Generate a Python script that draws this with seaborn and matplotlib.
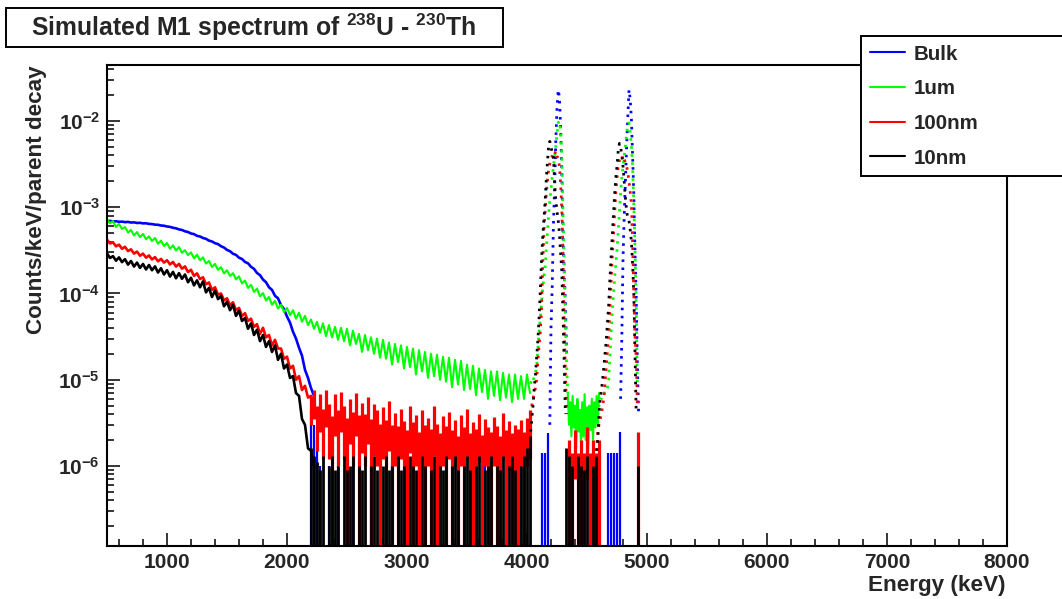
import numpy as np
import pandas as pd
import matplotlib
matplotlib.use("Agg")
import matplotlib.pyplot as plt
import seaborn as sns
from matplotlib.ticker import MultipleLocator, LogLocator, FuncFormatter, NullFormatter
from matplotlib.lines import Line2D
from matplotlib.patches import Rectangle

# ---------------- data (values in units of 1e-6 counts/keV/parent decay) ----------------
UNIT = 1e-6
SERIES = ["Bulk", "1um", "100nm", "10nm"]
COLORS = ["#0000ff", "#00ff00", "#ff0000", "#000000"]

# low-energy continuum, 500..2225 keV every 25 keV
E_LOW = list(range(500, 2226, 25))
bulk_low = [690, 695, 684, 688, 678, 681, 672, 676, 665, 668,
            657, 660, 650, 652, 641, 638, 628, 626, 614, 610,
            598, 592, 578, 570, 553, 545, 526, 516, 496, 488,
            466, 458, 440, 430, 410, 401, 383, 374, 353, 341,
            320, 309, 289, 280, 260, 251, 232, 224, 204, 193,
            173, 163, 145, 135, 118, 110, 94, 88, 73, 66,
            54, 46, 36, 30, 23.5, 19, 13, 10.5, 8.0, 6.5]
nm100_low = [420, 380, 392, 352, 368, 330, 348, 310, 325, 290,
             306, 274, 290, 260, 276, 248, 264, 236, 252, 228,
             243, 217, 232, 205, 220, 194, 206, 177, 188, 160,
             171, 147, 154, 128, 134, 110, 118, 97, 100, 83,
             88, 73, 79, 64, 68, 55, 59, 48, 51, 41,
             44, 34, 40, 31, 33, 25, 29, 23, 23, 17.5,
             18.5, 13.5, 14.5, 10, 11, 7.6, 8.5, 6.2, 6.5, 4.6]
nm10_low = [292, 258, 271, 240, 262, 231, 250, 216, 238, 205,
            228, 198, 220, 190, 214, 186, 206, 175, 196, 166,
            186, 157, 178, 150, 172, 148, 166, 135, 152, 124,
            142, 118, 138, 103, 116, 91, 108, 86, 94, 71,
            80, 64, 74, 55, 63, 48, 52, 39, 45, 33,
            38, 28, 33, 24, 28, 21, 25, 17, 20, 13.5,
            15, 10.5, 11, 7.0, 6.5, 3.5, 3.0, 1.6, 1.5, 1.0]

# 1um continuum, 500..4025 keV every 25 keV
E_GREEN = list(range(500, 4026, 25))
um1_low = [720, 650, 690, 590, 640, 560, 590, 510, 545, 470,
           515, 450, 490, 425, 460, 405, 440, 378, 410, 355,
           385, 330, 362, 315, 345, 296, 318, 279, 300, 255,
           282, 243, 262, 222, 238, 203, 220, 188, 202, 171,
           186, 160, 172, 146, 158, 131, 141, 116, 126, 104,
           114, 93, 101, 83, 91, 74, 82, 67, 74, 61,
           68, 56, 64, 51, 60, 47, 55, 43, 50, 39,
           47, 35, 45, 32, 43, 31, 41, 29, 40, 28,
           39, 25, 37, 26, 34, 21, 33, 22, 31, 20,
           30, 18, 29, 17.5, 27, 15, 26, 16, 25, 13.5,
           24, 14, 23, 11.5, 22, 12.5, 21, 10.5, 20, 11,
           19.5, 10, 18.5, 9.5, 18, 8.2, 17, 8.8, 16.5, 7.6,
           15, 7.8, 14.5, 6.6, 13.5, 7.2, 13, 6.0, 12.5, 6.5,
           12.5, 5.8, 12, 6.2, 11.5, 5.5, 11.5, 6.0, 11, 6.0,
           11.5, 7.0]

# 1um band between the two peaks, 4340..4600 keV every 10 keV
E_GAP = list(range(4340, 4601, 10))
um1_gap = [7, 3.0, 5.5, 2.2, 6.5, 2.8, 5.0, 1.6, 6.0, 2.5,
           4.5, 1.8, 5.5, 2.2, 6.8, 2.0, 4.8, 1.5, 5.0, 2.6,
           6.0, 2.0, 5.5, 2.8, 6.5, 3.0, 7.0]

# first alpha peak, 4030..4340 keV every 10 keV
E_PK1 = list(range(4030, 4341, 10))
bulk_pk1 = [0, 0, 0, 0, 0, 0, 0, 0, 0, 0,
            0, 0, 0, 0, 0, 0, 3, 40, 120, 600,
            1700, 6000, 14000, 23000, 19000, 8500, 2600, 450, 170, 80,
            20, 0]
um1_pk1 = [9, 10, 9.5, 11, 12, 14, 22, 35, 50, 75,
           110, 150, 190, 320, 500, 800, 1200, 1600, 2200, 2900,
           3800, 5000, 7000, 9500, 10000, 7500, 4000, 900, 250, 50,
           15, 7]
nm100_pk1 = [4, 5, 6, 7, 8, 10, 16, 24, 35, 60,
             200, 500, 860, 1400, 2000, 2700, 3200, 3600, 3900, 4300,
             4100, 4500, 3900, 3700, 3000, 1900, 950, 300, 40, 12,
             4, 0]
nm10_pk1 = [2.5, 3.5, 5, 8, 11, 18, 28, 50, 100, 230,
            430, 700, 1100, 2000, 3300, 5000, 5800, 5000, 4300, 3800,
            2000, 1200, 900, 700, 500, 300, 180, 60, 15, 4,
            0, 0]

# second alpha peak, 4580..4940 keV every 10 keV
E_PK2 = list(range(4580, 4941, 10))
bulk_pk2 = [0, 0, 0, 0, 0, 0, 0, 0, 0, 0,
            0, 0, 0, 0, 0, 0, 0, 0, 0, 0,
            6, 30, 250, 800, 2000, 5000, 11000, 23000, 18000, 10500,
            4000, 1400, 300, 90, 15, 4, 0]
um1_pk2 = [4, 5, 5, 6, 6, 7, 7, 7, 7, 8,
           10, 18, 32, 60, 95, 150, 220, 320, 520, 850,
           1500, 2200, 3000, 3900, 5000, 7000, 9000, 9500, 7500, 5200,
           2900, 1100, 350, 70, 8, 0, 0]
nm100_pk2 = [1.5, 2.5, 3, 3.5, 4, 5, 6, 9, 14, 22,
             32, 65, 130, 260, 450, 850, 1500, 2200, 3000, 3500,
             3700, 3500, 4000, 3600, 3300, 3000, 2500, 2000, 1500, 1100,
             400, 100, 32, 18, 5, 0, 0]
nm10_pk2 = [1.5, 2, 4, 6, 7.5, 10, 14, 20, 28, 45,
            70, 140, 250, 450, 800, 1400, 2200, 3000, 4500, 5500,
            5000, 4000, 3000, 2000, 1300, 900, 750, 700, 550, 400,
            220, 100, 20, 4, 0, 0, 0]

# low-count bins (error bars reaching the axis floor), 2200..4950 keV every 25 keV
E_FOREST = list(range(2200, 4951, 25))
bulk_forest = [4.5, 3.0, 2.0, 1.0, 0, 0, 1.0, 0, 0, 1.0,
               0, 0, 0, 0, 1.0, 0, 0, 0, 0, 0,
               1.0, 0, 0, 0, 0, 0, 0, 1.0, 0, 0,
               0, 0, 1.0, 0, 0, 0, 1.0, 0, 0, 0,
               0, 0, 0, 0, 0, 1.0, 0, 0, 0, 1.0,
               0, 0, 0, 0, 0, 0, 0, 0, 1.0, 0,
               0, 0, 0, 1.0, 0, 0, 0, 0, 0, 0,
               1.0, 0, 0, 0, 0, 0, 0, 1.4, 1.4, 2.4,
               0, 0, 0, 0, 0, 0, 0, 0, 0, 0,
               0, 0, 0, 0, 0, 0, 0, 0, 0, 1.4,
               1.4, 1.4, 1.4, 2.5, 0, 0, 0, 0, 0, 0,
               0]
nm100_forest_hi = [6.5, 7.5, 5.0, 6.8, 4.6, 7.6, 5.2, 3.8, 6.9, 4.4,
                   7.2, 5.0, 3.6, 6.0, 4.2, 7.0, 3.9, 5.4, 4.0, 6.3,
                   3.5, 5.2, 4.5, 3.1, 4.8, 3.4, 5.6, 3.0, 4.1, 2.9,
                   4.6, 3.3, 2.6, 5.0, 3.2, 3.9, 2.5, 4.4, 3.0, 3.6,
                   2.7, 4.9, 3.1, 2.4, 3.8, 2.9, 4.2, 2.6, 3.4, 2.2,
                   3.9, 2.8, 4.6, 2.4, 3.2, 2.7, 4.0, 2.3, 3.5, 2.8,
                   2.5, 3.7, 2.9, 2.2, 4.1, 2.6, 3.3, 2.4, 3.0, 2.7,
                   3.4, 2.5, 3.6, 4.5, 0, 0, 0, 0, 0, 0,
                   0, 0, 0, 0, 0, 0, 2.0, 1.4, 2.6, 1.4,
                   2.0, 1.4, 2.8, 1.4, 2.0, 1.4, 2.0, 0, 0, 0,
                   0, 0, 0, 0, 0, 0, 0, 0, 0, 2.5,
                   0]
nm100_forest_lo = [3.0, 3.5, 1.5, 2.5, 1.2, 2.8, 1.2, 0, 2.2, 1.0,
                   2.5, 1.2, 0, 1.8, 1.0, 2.2, 0, 1.4, 1.0, 1.8,
                   0, 1.3, 1.0, 0, 1.2, 0, 1.5, 0, 1.0, 0,
                   1.2, 0, 0, 1.4, 0, 1.0, 0, 1.2, 0, 1.0,
                   0, 1.3, 0, 0, 1.0, 0, 1.2, 0, 1.0, 0,
                   1.0, 0, 1.2, 0, 0, 0, 1.1, 0, 1.0, 0,
                   0, 1.0, 0, 0, 1.2, 0, 0.9, 0, 0, 0,
                   1.0, 0, 1.0, 1.2, 0, 0, 0, 0, 0, 0,
                   0, 0, 0, 0, 0, 0, 0, 0, 0.7, 0,
                   0, 0, 0.7, 0, 0, 0, 0, 0, 0, 0,
                   0, 0, 0, 0, 0, 0, 0, 0, 0, 0,
                   0]
nm10_forest = [1.6, 1.3, 1.1, 0.9, 1.3, 0, 1.0, 1.3, 0.9, 1.0,
               0, 1.3, 0.9, 1.0, 1.3, 0, 1.0, 0.9, 1.3, 0,
               1.0, 1.3, 0.9, 0, 1.0, 1.3, 0.9, 1.0, 0, 1.3,
               0.9, 1.0, 0, 1.3, 1.0, 0.9, 0, 1.3, 1.0, 0,
               0.9, 1.3, 0, 1.0, 0.9, 1.3, 0, 1.0, 1.3, 0.9,
               0, 1.0, 1.3, 0.9, 0, 1.0, 1.3, 0, 0.9, 1.0,
               1.3, 0, 1.0, 0.9, 1.3, 0, 1.0, 1.3, 0.9, 0,
               1.0, 1.3, 1.6, 2.2, 0, 0, 0, 0, 0, 0,
               0, 0, 0, 0, 0, 1.6, 1.3, 1.0, 0, 1.3,
               1.0, 0.9, 1.3, 0, 1.0, 1.3, 0, 0, 0, 0,
               0, 0, 0, 0, 0, 0, 0, 0, 0, 1.0,
               0]

TITLE = r"Simulated M1 spectrum of $^{238}$U - $^{230}$Th"
XLABEL = "Energy (keV)"
YLABEL = "Counts/keV/parent decay"
XLIM = (500, 8000)
YLIM = (1.18e-7, 0.0446)

# ---------------- style ----------------
sns.set_theme(style="white")
plt.rcParams["font.family"] = ["Liberation Sans", "DejaVu Sans"]
plt.rcParams["font.weight"] = "bold"
plt.rcParams["mathtext.fontset"] = "custom"
plt.rcParams["mathtext.rm"] = "Liberation Sans:bold"
plt.rcParams["mathtext.bf"] = "Liberation Sans:bold"
plt.rcParams["mathtext.it"] = "Liberation Sans:bold"
plt.rcParams["mathtext.default"] = "rm"
plt.rcParams["axes.unicode_minus"] = False

W, H = 1062, 599
fig = plt.figure(figsize=(W / 100, H / 100), dpi=100)
fig.patch.set_facecolor("white")
ax = fig.add_axes([107 / W, 1 - 546 / H, 900 / W, 481 / H])
ax.set_facecolor("white")
ax.set_yscale("log")
ax.set_xlim(*XLIM)
ax.set_ylim(*YLIM)


def frame(e, v):
    d = pd.DataFrame({"E": e, "v": np.array(v, dtype=float) * UNIT})
    return d[d["v"] > 0]


lows = {"Bulk": (E_LOW, bulk_low), "1um": (E_GREEN, um1_low),
        "100nm": (E_LOW, nm100_low), "10nm": (E_LOW, nm10_low)}
pk1 = {"Bulk": bulk_pk1, "1um": um1_pk1, "100nm": nm100_pk1, "10nm": nm10_pk1}
pk2 = {"Bulk": bulk_pk2, "1um": um1_pk2, "100nm": nm100_pk2, "10nm": nm10_pk2}
lw_low = {"Bulk": 1.9, "1um": 1.5, "100nm": 1.9, "10nm": 1.9}

floor = YLIM[0] * 0.99
for name, col in zip(SERIES, COLORS):
    # low-count bins (vertical error bars)
    if name == "Bulk":
        hi = np.array(bulk_forest) * UNIT
        lo = np.zeros_like(hi)
        lwb = 1.6
    elif name == "100nm":
        hi = np.array(nm100_forest_hi) * UNIT
        lo = np.array(nm100_forest_lo) * UNIT
        lwb = 2.3
    elif name == "10nm":
        hi = np.array(nm10_forest) * UNIT
        lo = np.zeros_like(hi)
        lwb = 2.0
    else:
        hi = None
    if hi is not None:
        ef = np.array(E_FOREST)
        m = hi > 0
        lo = np.where(lo > 0, lo, floor)
        ax.vlines(ef[m], lo[m], hi[m], color=col, lw=lwb)
    if name == "1um":
        sns.lineplot(data=frame(E_GAP, um1_gap), x="E", y="v", ax=ax, color=col,
                     lw=1.5, estimator=None, sort=False)
    e, v = lows[name]
    sns.lineplot(data=frame(e, v), x="E", y="v", ax=ax, color=col,
                 lw=lw_low[name], estimator=None, sort=False)
    for ee, vv in ((E_PK1, pk1[name]), (E_PK2, pk2[name])):
        sns.lineplot(data=frame(ee, vv), x="E", y="v", ax=ax, color=col,
                     lw=2.0, linestyle=(0, (0.9, 2.0)), estimator=None, sort=False)

# axes cosmetics (ROOT-like)
ax.set_xlabel("")
ax.set_ylabel("")
for s in ax.spines.values():
    s.set_linewidth(1.5)
    s.set_color("black")
ax.xaxis.set_major_locator(MultipleLocator(1000))
ax.xaxis.set_minor_locator(MultipleLocator(200))
ax.yaxis.set_major_locator(LogLocator(base=10, numticks=20))
ax.yaxis.set_minor_locator(LogLocator(base=10, subs=np.arange(2, 10), numticks=20))
ax.yaxis.set_minor_formatter(NullFormatter())
ax.yaxis.set_major_formatter(FuncFormatter(lambda v, p: r"$10^{%d}$" % int(round(np.log10(v)))))
ax.tick_params(which="both", direction="in", bottom=True, left=True, top=False, right=False,
               color="black", width=1.1)
ax.tick_params(which="major", length=9.5, labelsize=15, pad=5)
ax.tick_params(which="minor", length=5)
for lab in ax.get_xticklabels() + ax.get_yticklabels():
    lab.set_fontweight("bold")

fig.text(37 / W, 1 - 65 / H, YLABEL, rotation=90, ha="center", va="top",
         fontsize=16.2, fontweight="bold")
fig.text(1005 / W, 1 - 586 / H, XLABEL, ha="right", va="center",
         fontsize=16.2, fontweight="bold")

# title box
fig.patches.append(Rectangle((6 / W, 1 - 47 / H), 497 / W, 39 / H, transform=fig.transFigure,
                             fc="white", ec="black", lw=1.4, zorder=5))
fig.text(254 / W, 1 - 27 / H, TITLE, ha="center", va="center", fontsize=17.8,
         fontweight="bold", zorder=6)

# legend
handles = [Line2D([], [], color=c, lw=1.5) for c in COLORS]
leg = fig.legend(handles, SERIES, loc="upper left",
                 bbox_to_anchor=(861 / W, 1 - 175 / H, 240 / W, 139 / H), mode="expand",
                 prop={"weight": "bold", "size": 14.8}, frameon=True, fancybox=False,
                 borderaxespad=0, borderpad=0.42, handlelength=1.7, handletextpad=0.45,
                 labelspacing=0.76)
leg.get_frame().set_edgecolor("black")
leg.get_frame().set_linewidth(1.4)
leg.get_frame().set_facecolor("white")
leg.get_frame().set_alpha(1)
leg.set_zorder(10)

fig.savefig("out.png", dpi=100, facecolor="white")
